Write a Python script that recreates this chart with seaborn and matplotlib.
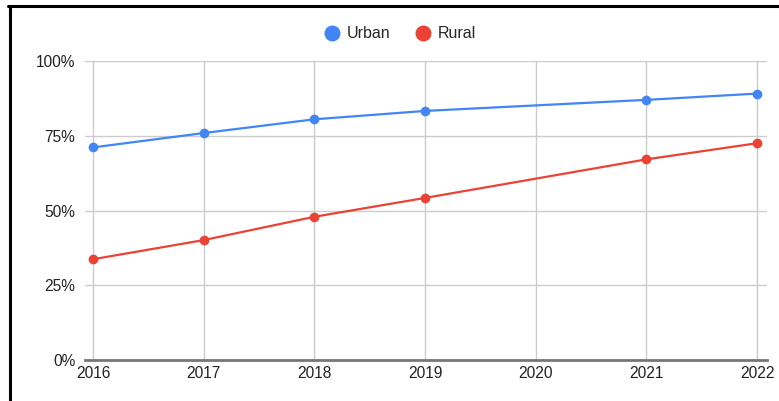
import matplotlib
matplotlib.use("Agg")
import matplotlib.pyplot as plt
from matplotlib.lines import Line2D
from matplotlib.ticker import FuncFormatter
import seaborn as sns
import pandas as pd

years = [2016, 2017, 2018, 2019, 2021, 2022]
urban = [71.1, 75.9, 80.5, 83.3, 87.0, 89.1]
rural = [33.7, 40.1, 47.9, 54.2, 67.1, 72.5]
year_ticks = [2016, 2017, 2018, 2019, 2020, 2021, 2022]
pct_ticks = [0, 25, 50, 75, 100]

df = pd.DataFrame({
    "Year": years * 2,
    "Share": urban + rural,
    "Area": ["Urban"] * len(years) + ["Rural"] * len(years),
})

sns.set_theme(style="white")
plt.rcParams["font.family"] = ["Liberation Sans", "DejaVu Sans"]

fig = plt.figure(figsize=(7.79, 4.01), dpi=100)
ax = fig.add_axes([85 / 779, 1 - 360 / 401, (767 - 85) / 779, (360 - 61) / 401])

palette = {"Urban": "#4285F4", "Rural": "#EA4335"}
sns.lineplot(data=df, x="Year", y="Share", hue="Area", palette=palette,
             marker="o", markersize=7, markeredgewidth=0, linewidth=1.6,
             ax=ax, legend=False, zorder=3)

ax.set_xlim(2016 - 8 / 110.67, 2022 + 10 / 110.67)
ax.set_ylim(0, 100)
ax.set_xticks(year_ticks)
ax.set_yticks(pct_ticks)
ax.yaxis.set_major_formatter(FuncFormatter(lambda v, p: f"{int(v)}%"))
ax.grid(True, color="#cccccc", linewidth=1)
ax.set_axisbelow(True)
for s in ["top", "right", "left"]:
    ax.spines[s].set_visible(False)
ax.spines["bottom"].set_color("#777777")
ax.spines["bottom"].set_linewidth(2)
ax.spines["bottom"].set_zorder(2)
ax.tick_params(axis="both", length=0, labelsize=11.2, colors="#222222")
ax.tick_params(axis="y", pad=7)
ax.tick_params(axis="x", pad=4.5)
ax.set_xlabel("")
ax.set_ylabel("")

handles = [Line2D([], [], marker="o", linestyle="", markersize=11.5,
                  markeredgewidth=0, color=palette[k]) for k in ["Urban", "Rural"]]
fig.legend(handles, ["Urban", "Rural"], loc="center", bbox_to_anchor=(400 / 779, 1 - 34 / 401),
           ncol=2, frameon=False, fontsize=11.5, handletextpad=0.45, columnspacing=1.5,
           handlelength=1.0)

# frame lines along the top and left edges
fig.add_artist(Line2D([8 / 779, 1.0], [1 - 6 / 401] * 2, color="black", linewidth=2.2,
                      transform=fig.transFigure))
fig.add_artist(Line2D([9.5 / 779] * 2, [0, 1 - 6 / 401], color="black", linewidth=2.2,
                      transform=fig.transFigure))

fig.savefig("out.png", dpi=100, facecolor="white")
